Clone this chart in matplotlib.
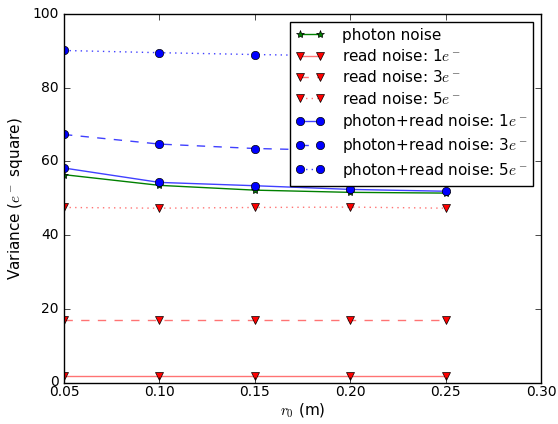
import matplotlib
matplotlib.use("Agg")
import matplotlib.pyplot as plt

plt.style.use("classic")
plt.rcParams["font.size"] = 10
plt.rcParams["xtick.major.pad"] = 2

r0 = [0.05, 0.10, 0.15, 0.20, 0.25]

photon = [56.4, 53.5, 52.2, 51.6, 51.4]
read_1 = [1.8, 1.8, 1.8, 1.8, 1.8]
read_3 = [17.0, 17.0, 17.0, 17.0, 17.0]
read_5 = [47.5, 47.3, 47.5, 47.6, 47.3]
both_1 = [58.2, 54.3, 53.4, 52.4, 51.9]
both_3 = [67.3, 64.7, 63.5, 62.9, 62.6]
both_5 = [90.1, 89.5, 89.0, 88.6, 88.3]

fig, ax = plt.subplots(figsize=(5.58, 4.24), dpi=100)

ms = 6
ax.plot(r0, photon, "-", marker="*", color="g", markerfacecolor="g",
        markeredgecolor="k", markersize=ms, label="photon noise")
red = (1, 0, 0, 0.55)
ax.plot(r0, read_1, "-", marker="v", color=red, markerfacecolor="r",
        markeredgecolor="k", markersize=ms, label=r"read noise: 1$e^-$")
ax.plot(r0, read_3, "--", marker="v", color=red, markerfacecolor="r",
        markeredgecolor="k", markersize=ms, label=r"read noise: 3$e^-$")
ax.plot(r0, read_5, ":", marker="v", color=red, markerfacecolor="r",
        markeredgecolor="k", markersize=ms, label=r"read noise: 5$e^-$")
blue = (0, 0, 1, 0.75)
ax.plot(r0, both_1, "-", marker="o", color=blue, markerfacecolor="b",
        markeredgecolor="k", markersize=ms, label=r"photon+read noise: 1$e^-$")
ax.plot(r0, both_3, "--", marker="o", color=blue, markerfacecolor="b",
        markeredgecolor="k", markersize=ms, label=r"photon+read noise: 3$e^-$")
ax.plot(r0, both_5, ":", marker="o", color=blue, markerfacecolor="b",
        markeredgecolor="k", markersize=ms, label=r"photon+read noise: 5$e^-$")

ax.set_xlim(0.05, 0.30)
ax.set_ylim(0, 100)
ax.set_xlabel(r"$r_0$ (m)", fontsize=11, labelpad=2)
ax.set_ylabel(r"Variance ($e^-$ square)", fontsize=11)
ax.legend(loc="upper right", fontsize=11, numpoints=2, framealpha=1.0,
          labelspacing=0.35, handlelength=1.9, handletextpad=1.1)

fig.subplots_adjust(left=64 / 558, right=541 / 558, bottom=1 - 382.5 / 424,
                    top=1 - 14 / 424)
fig.savefig("out.png", dpi=100)
